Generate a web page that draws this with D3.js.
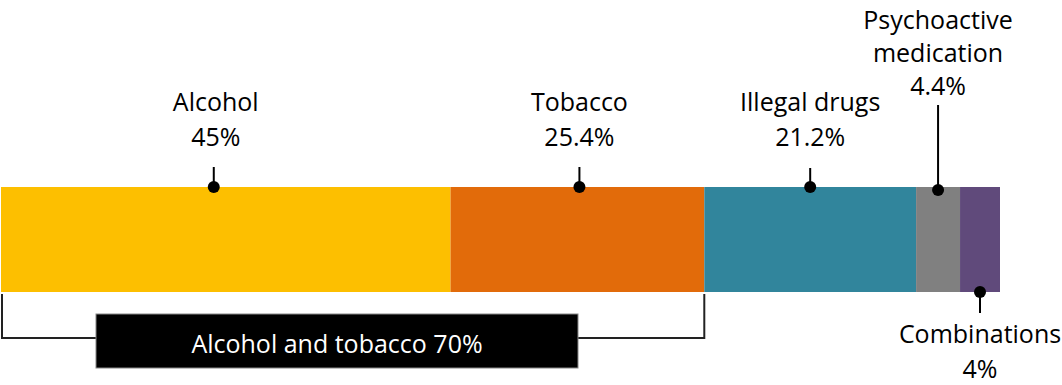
<!DOCTYPE html>
<html>
<head>
<meta charset="utf-8">
<script src="https://cdn.jsdelivr.net/npm/d3@7"></script>
<style>
  body { margin: 0; background: #fff; }
  svg text { font-family: "Open Sans", "DejaVu Sans", sans-serif; }
</style>
</head>
<body>
<div id="chart"></div>
<script>
// data
const categories = ["Alcohol", "Tobacco", "Illegal drugs", "Psychoactive medication", "Combinations"];
const values = [45, 25.4, 21.2, 4.4, 4];
const valueLabels = ["45%", "25.4%", "21.2%", "4.4%", "4%"];
const labelLines = [["Alcohol"], ["Tobacco"], ["Illegal drugs"], ["Psychoactive", "medication"], ["Combinations"]];
const groupLabel = "Alcohol and tobacco 70%";
const groupCount = 2; // first two categories are bracketed

const colors = ["#FDBF00", "#E26B0A", "#31859C", "#808080", "#604A7B"];

const width = 1062, height = 385;

const svg = d3.select("#chart").append("svg")
  .attr("width", width)
  .attr("height", height);

const x = d3.scaleLinear()
  .domain([0, 100])
  .range([1, 1000]);

const y = d3.scaleBand()
  .domain(["all"])
  .range([187, 292])
  .padding(0);

// stack the segments
let acc = 0;
const segs = values.map((v, i) => {
  const s = { name: categories[i], value: v, x0: acc, x1: acc + v, i: i };
  acc += v;
  return s;
});

svg.append("g")
  .selectAll("rect")
  .data(segs)
  .enter().append("rect")
  .attr("x", d => x(d.x0))
  .attr("y", y("all"))
  .attr("width", d => x(d.x1) - x(d.x0))
  .attr("height", y.bandwidth())
  .attr("fill", d => colors[d.i]);

// label layout: top or bottom, and where the leader line ends
const below = [false, false, false, false, true];
const nudge = [-12, 2, 0, 0, 0];
const lineEnd = [167, 167, 168, 105, 313];
const lastBaseline = [146, 146, 146, 95, 378];
const lineGap = [35, 35, 35, 33, 35];
const fontSize = 25;

const labels = svg.append("g");
segs.forEach(d => {
  const cx = (x(d.x0) + x(d.x1)) / 2 + nudge[d.i];
  const edge = below[d.i] ? y("all") + y.bandwidth() : y("all");
  labels.append("line")
    .attr("x1", cx).attr("x2", cx)
    .attr("y1", edge).attr("y2", lineEnd[d.i])
    .attr("stroke", "#000")
    .attr("stroke-width", 2);
  labels.append("circle")
    .attr("cx", cx)
    .attr("cy", edge + (d.i === 3 ? 3 : 0))
    .attr("r", 6)
    .attr("fill", "#000");

  const lines = labelLines[d.i].concat([valueLabels[d.i]]);
  const n = lines.length;
  lines.forEach((t, k) => {
    labels.append("text")
      .attr("x", cx + (d.i === 0 ? 2 : 0))
      .attr("y", lastBaseline[d.i] - (n - 1 - k) * lineGap[d.i])
      .attr("text-anchor", "middle")
      .attr("font-size", fontSize)
      .attr("fill", "#000")
      .text(t);
  });
});

// bracket for the first two categories
const bx0 = x(segs[0].x0) + 1;
const bx1 = x(segs[groupCount - 1].x1);
const boxX0 = 96, boxX1 = 578, boxY0 = 314, boxY1 = 368;
const bracketY = 338;
const barBottom = y("all") + y.bandwidth() + 2;

svg.append("path")
  .attr("d", `M${bx0},${barBottom}V${bracketY}H${boxX0}M${boxX1},${bracketY}H${bx1}V${barBottom}`)
  .attr("fill", "none")
  .attr("stroke", "#222")
  .attr("stroke-width", 2);

svg.append("rect")
  .attr("x", boxX0)
  .attr("y", boxY0)
  .attr("width", boxX1 - boxX0)
  .attr("height", boxY1 - boxY0)
  .attr("fill", "#000")
  .attr("stroke", "#888")
  .attr("stroke-width", 1);

svg.append("text")
  .attr("x", (boxX0 + boxX1) / 2)
  .attr("y", 353)
  .attr("text-anchor", "middle")
  .attr("font-size", fontSize)
  .attr("fill", "#fff")
  .text(groupLabel);
</script>
</body>
</html>
